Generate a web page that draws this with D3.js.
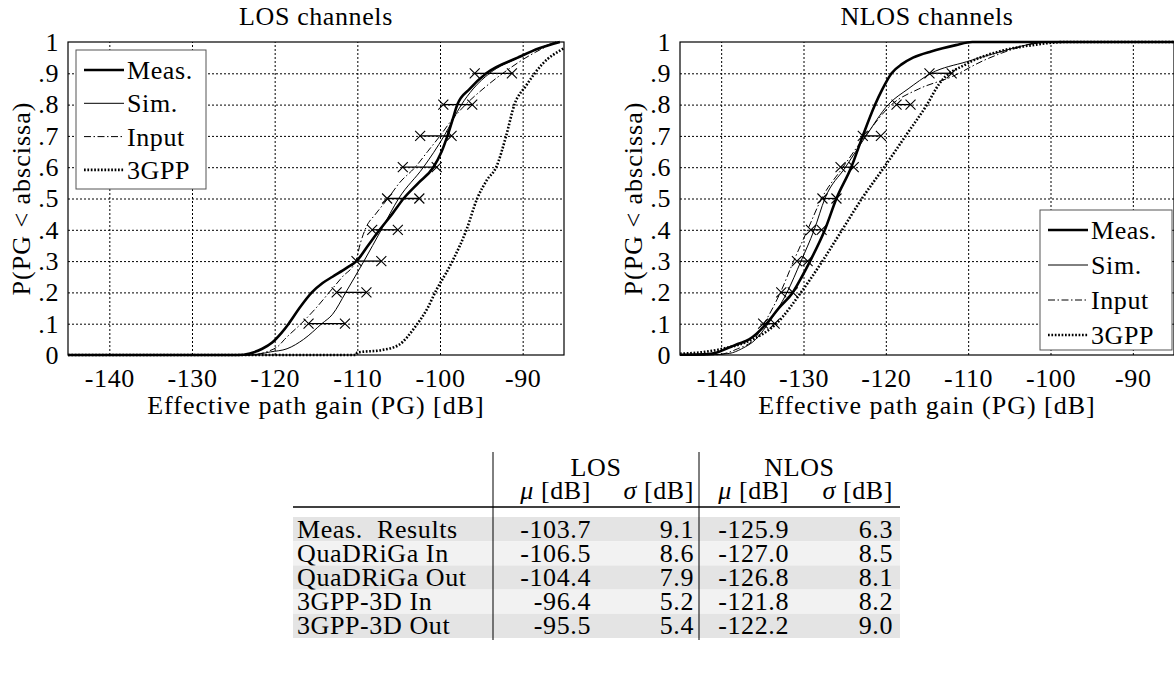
<!DOCTYPE html>
<html>
<head>
<meta charset="utf-8">
<script src="https://d3js.org/d3.v7.min.js"></script>
<style>
  body { margin: 0; background: #fff; }
  svg { display: block; font-family: "Liberation Serif", "Times New Roman", serif; letter-spacing: 0.6px; }
</style>
</head>
<body>
<script>
// ---- data ----
const xTicks = [-140, -130, -120, -110, -100, -90];
const yTicks = [0, .1, .2, .3, .4, .5, .6, .7, .8, .9, 1];
const yTickLabels = ["0", ".1", ".2", ".3", ".4", ".5", ".6", ".7", ".8", ".9", "1"];
const seriesNames = ["Meas.", "Sim.", "Input", "3GPP"];
const markLevels = [.1, .2, .3, .4, .5, .6, .7, .8, .9];

// LOS curves, [path gain dB, probability]
const losMeas = [[-145,0],[-124.5,0],[-123,0.005],[-121.5,0.02],[-120.3,0.04],[-119.2,0.07],[-118.3,0.1],[-117,0.15],[-115.5,0.2],[-114.2,0.23],[-113,0.25],[-111.2,0.28],[-110.1,0.3],[-108.7,0.35],[-107.3,0.4],[-105.8,0.45],[-104.4,0.5],[-102.6,0.55],[-100.8,0.6],[-99.8,0.65],[-99.1,0.7],[-98.5,0.75],[-97.9,0.8],[-96.4,0.85],[-94.4,0.9],[-90.6,0.95],[-88,0.98],[-85.5,1]];
const losSim = [[-145,0],[-123,0],[-120.5,0.01],[-118.5,0.02],[-116.5,0.05],[-114.3,0.1],[-113,0.13],[-111.4,0.2],[-109.2,0.3],[-107.1,0.4],[-105,0.5],[-102,0.6],[-99.5,0.7],[-97.4,0.8],[-96,0.85],[-94,0.9],[-90.5,0.95],[-88,0.98],[-86,1]];
const losInput = [[-145,0],[-123,0],[-121,0.01],[-119.5,0.03],[-118.8,0.05],[-116.8,0.1],[-115,0.15],[-113.4,0.2],[-111.8,0.25],[-110.2,0.3],[-109.6,0.36],[-108.9,0.41],[-107.8,0.45],[-106.3,0.5],[-104.9,0.55],[-103,0.6],[-101.5,0.65],[-100,0.7],[-98.6,0.75],[-96.9,0.8],[-94.8,0.85],[-92.4,0.9],[-89.6,0.95],[-86,1]];
const los3gpp = [[-145,0],[-110.2,0],[-110,0.008],[-107,0.016],[-105,0.032],[-103,0.09],[-101.5,0.15],[-100.4,0.21],[-99.3,0.26],[-98.4,0.305],[-96.8,0.4],[-95.5,0.5],[-94.3,0.56],[-93.2,0.6],[-92,0.7],[-91,0.8],[-89.6,0.86],[-87.6,0.93],[-85,0.98]];
const losMarkLo = [-115.9, -112.5, -110.1, -108.2, -106.4, -104.5, -102.4, -99.6, -95.8];
const losMarkHi = [-111.5, -108.9, -107.1, -105.1, -102.5, -100.4, -98.6, -96.1, -91.3];

// NLOS curves
const nlosMeas = [[-145,0.001],[-142,0.002],[-140.5,0.008],[-139.4,0.02],[-138,0.035],[-136.6,0.05],[-134.5,0.1],[-133,0.15],[-131.3,0.2],[-130.2,0.25],[-129.2,0.3],[-127.4,0.4],[-126,0.5],[-124.2,0.6],[-122.8,0.7],[-121.3,0.8],[-120.4,0.85],[-119.3,0.9],[-118,0.93],[-116.7,0.95],[-114.5,0.97],[-113.1,0.98],[-111.5,0.99],[-109.5,1],[-85,1]];
const nlosSim = [[-145,0],[-141,0.001],[-139,0.005],[-137.5,0.02],[-135.8,0.05],[-134.3,0.1],[-132,0.2],[-130.3,0.3],[-128.7,0.4],[-127.4,0.5],[-124.9,0.6],[-122.4,0.7],[-119.7,0.8],[-117.3,0.85],[-114.5,0.9],[-110.2,0.937],[-106.2,0.968],[-103,0.99],[-100,1],[-85,1]];
const nlosInput = [[-145,0],[-140.5,0.001],[-138,0.02],[-136,0.05],[-134.8,0.1],[-132.8,0.2],[-131.2,0.3],[-129.5,0.4],[-127.8,0.5],[-125.2,0.6],[-122.5,0.7],[-119.3,0.8],[-116,0.85],[-111.9,0.89],[-108.2,0.94],[-104.2,0.98],[-101,1],[-85,1]];
const nlos3gpp = [[-145,0.004],[-142,0.01],[-139.8,0.02],[-136.2,0.05],[-133.3,0.1],[-130.3,0.2],[-127.7,0.3],[-125.3,0.4],[-122.9,0.5],[-120.2,0.6],[-117.6,0.7],[-115,0.8],[-113.5,0.867],[-110.2,0.93],[-106.2,0.97],[-102.2,0.99],[-98.1,1],[-85,1]];
const nlosMarkLo = [-134.9, -132.7, -130.8, -129.1, -127.7, -125.5, -122.8, -118.7, -114.7];
const nlosMarkHi = [-133.5, -131.3, -129.5, -127.8, -126.0, -123.9, -120.6, -117.0, -112.0];

// table
const tableRows = ["Meas.\u00a0 Results", "QuaDRiGa In", "QuaDRiGa Out", "3GPP-3D In", "3GPP-3D Out"];
const losMu = ["-103.7", "-106.5", "-104.4", "-96.4", "-95.5"];
const losSigma = ["9.1", "8.6", "7.9", "5.2", "5.4"];
const nlosMu = ["-125.9", "-127.0", "-126.8", "-121.8", "-122.2"];
const nlosSigma = ["6.3", "8.5", "8.1", "8.2", "9.0"];

// ---- drawing ----
const W = 1174, H = 684;
const FS = 26;
const svg = d3.select("body").append("svg").attr("width", W).attr("height", H);

const styles = {
  "Meas.": { w: 2.6, dash: null },
  "Sim.":  { w: 1,   dash: null },
  "Input": { w: 1,   dash: "7,2.5,1.5,2.5" },
  "3GPP":  { w: 2.6, dash: "1.7,1.7" }
};

function drawPanel(p) {
  const top = 42, bottom = 355;
  const x = d3.scaleLinear().domain([-145, -85]).range([p.left, p.right]);
  const y = d3.scaleLinear().domain([0, 1]).range([bottom, top]);
  const g = svg.append("g");

  g.append("clipPath").attr("id", p.id + "clip")
    .append("rect").attr("x", p.left).attr("y", top - 3)
    .attr("width", p.right - p.left).attr("height", bottom - top + 6);

  // grid
  g.append("g")
    .attr("transform", `translate(0,${bottom})`)
    .call(d3.axisBottom(x).tickValues(xTicks).tickSize(-(bottom - top)).tickFormat(""))
    .call(a => a.select(".domain").remove())
    .selectAll("line").attr("stroke", "#000").attr("stroke-width", 1).attr("stroke-dasharray", "2,2");
  g.append("g")
    .attr("transform", `translate(${p.left},0)`)
    .call(d3.axisLeft(y).tickValues(yTicks.slice(1, -1)).tickSize(-(p.right - p.left)).tickFormat(""))
    .call(a => a.select(".domain").remove())
    .selectAll("line").attr("stroke", "#000").attr("stroke-width", 1).attr("stroke-dasharray", "2,2");

  // tick labels
  g.append("g")
    .attr("transform", `translate(0,${bottom})`)
    .call(d3.axisBottom(x).tickValues(xTicks).tickSize(0).tickPadding(14).tickFormat(d => String(d)))
    .call(a => a.select(".domain").remove())
    .selectAll("text").attr("font-family", "Liberation Serif").attr("font-size", FS).attr("fill", "#000");
  g.append("g")
    .attr("transform", `translate(${p.left},0)`)
    .call(d3.axisLeft(y).tickValues(yTicks).tickSize(0).tickPadding(9).tickFormat((d, i) => yTickLabels[i]))
    .call(a => a.select(".domain").remove())
    .selectAll("text").attr("font-family", "Liberation Serif").attr("font-size", FS).attr("fill", "#000");

  // curves
  const line = d3.line().x(d => x(d[0])).y(d => y(d[1])).curve(d3.curveMonotoneX);
  const curves = g.append("g").attr("clip-path", `url(#${p.id}clip)`);
  p.series.forEach((s, i) => {
    const st = styles[seriesNames[i]];
    curves.append("path").datum(s)
      .attr("d", line).attr("fill", "none").attr("stroke", "#000")
      .attr("stroke-width", st.w).attr("stroke-dasharray", st.dash);
  });

  // quantile markers
  const mk = curves.append("g");
  markLevels.forEach((lv, i) => {
    mk.append("line")
      .attr("x1", x(p.markLo[i])).attr("x2", x(p.markHi[i]))
      .attr("y1", y(lv)).attr("y2", y(lv))
      .attr("stroke", "#000").attr("stroke-width", 1.3);
    [p.markLo[i], p.markHi[i]].forEach(v => {
      mk.append("path")
        .attr("transform", `translate(${x(v)},${y(lv)})`)
        .attr("d", "M-5,-5L5,5M-5,5L5,-5")
        .attr("stroke", "#000").attr("stroke-width", 1.1).attr("fill", "none");
    });
  });

  // frame
  g.append("rect").attr("x", p.left).attr("y", top)
    .attr("width", p.right - p.left).attr("height", bottom - top)
    .attr("fill", "none").attr("stroke", "#000").attr("stroke-width", 1.2);

  // titles and axis labels
  const cx = (p.left + p.right) / 2;
  g.append("text").attr("x", cx).attr("y", 25).attr("text-anchor", "middle")
    .attr("font-size", FS).text(p.title);
  g.append("text").attr("x", cx).attr("y", 414).attr("text-anchor", "middle")
    .attr("font-size", FS).style("letter-spacing", "1px").text("Effective path gain (PG) [dB]");
  g.append("text")
    .attr("transform", `translate(${p.ylabX},${(top + bottom) / 2}) rotate(-90)`)
    .attr("text-anchor", "middle").attr("font-size", FS).style("letter-spacing", "1px")
    .text("P(PG < abscissa)");

  // legend
  const lg = g.append("g").attr("transform", `translate(${p.leg.x},${p.leg.y})`);
  lg.append("rect").attr("width", p.leg.w).attr("height", p.leg.h)
    .attr("fill", "#fff").attr("stroke", "#555").attr("stroke-width", 1);
  seriesNames.forEach((n, i) => {
    const st = styles[n];
    const yy = p.leg.first + i * p.leg.step;
    lg.append("line").attr("x1", 8).attr("x2", 48).attr("y1", yy).attr("y2", yy)
      .attr("stroke", "#000").attr("stroke-width", st.w).attr("stroke-dasharray", st.dash);
    lg.append("text").attr("x", 51).attr("y", yy + 9).attr("font-size", FS).text(n);
  });
}

drawPanel({
  id: "los", left: 68, right: 564, title: "LOS channels", ylabX: 30,
  series: [losMeas, losSim, losInput, los3gpp],
  markLo: losMarkLo, markHi: losMarkHi,
  leg: { x: 76, y: 50, w: 130, h: 139, first: 20, step: 33.3 }
});
drawPanel({
  id: "nlos", left: 680, right: 1174, title: "NLOS channels", ylabX: 642,
  series: [nlosMeas, nlosSim, nlosInput, nlos3gpp],
  markLo: nlosMarkLo, markHi: nlosMarkHi,
  leg: { x: 1040, y: 210, w: 132, h: 140, first: 20, step: 35 }
});

// ---- table ----
const tb = svg.append("g").attr("font-size", FS);
const tLeft = 293, tRight = 900, v1 = 493, v2 = 699;
const rowTop = 517, rowH = 24.2;
const colRight = [591, 694, 789, 893];

tableRows.forEach((r, i) => {
  tb.append("rect").attr("x", tLeft).attr("y", rowTop + i * rowH)
    .attr("width", tRight - tLeft).attr("height", rowH)
    .attr("fill", i % 2 === 0 ? "#e4e4e4" : "#f2f2f2");
  const by = rowTop + i * rowH + rowH / 2 + 8.5;
  tb.append("text").attr("x", 297).attr("y", by).text(r);
  [losMu[i], losSigma[i], nlosMu[i], nlosSigma[i]].forEach((v, j) => {
    tb.append("text").attr("x", colRight[j]).attr("y", by).attr("text-anchor", "end").text(v);
  });
});

tb.append("line").attr("x1", tLeft).attr("x2", tRight).attr("y1", 507).attr("y2", 507)
  .attr("stroke", "#000").attr("stroke-width", 1.6);
[v1, v2].forEach(v => {
  tb.append("line").attr("x1", v).attr("x2", v).attr("y1", 452).attr("y2", 640)
    .attr("stroke", "#000").attr("stroke-width", 1);
});

tb.append("text").attr("x", (v1 + v2) / 2).attr("y", 476).attr("text-anchor", "middle").text("LOS");
tb.append("text").attr("x", (v2 + tRight) / 2).attr("y", 476).attr("text-anchor", "middle").text("NLOS");
const heads = [["\u03bc", 0], ["\u03c3", 1], ["\u03bc", 2], ["\u03c3", 3]];
heads.forEach(([sym, j]) => {
  const t = tb.append("text").attr("x", colRight[j]).attr("y", 499).attr("text-anchor", "end");
  t.append("tspan").attr("font-style", "italic").text(sym);
  t.append("tspan").text(" [dB]");
});
</script>
</body>
</html>
